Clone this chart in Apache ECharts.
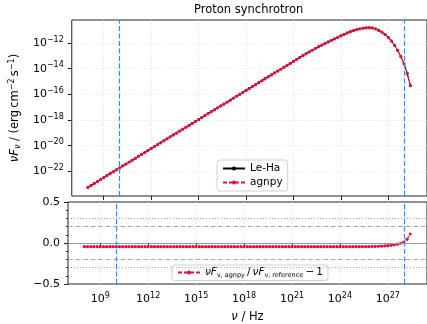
<!DOCTYPE html>
<html><head><meta charset="utf-8">
<script src="https://cdn.jsdelivr.net/npm/echarts@6/dist/echarts.min.js"></script>
<style>html,body{margin:0;padding:0;background:#fff}#c{width:427px;height:324px}</style>
</head><body><div id="c"></div>
<script>
// log10(nu / Hz)
const logNu = [8.0,8.2,8.4,8.6,8.8,9.0,9.2,9.4,9.6,9.8,10.0,10.2,10.4,10.6,10.8,11.0,11.2,11.4,11.6,11.8,12.0,12.2,12.4,12.6,12.8,13.0,13.2,13.4,13.6,13.8,14.0,14.2,14.4,14.6,14.8,15.0,15.2,15.4,15.6,15.8,16.0,16.2,16.4,16.6,16.8,17.0,17.2,17.4,17.6,17.8,18.0,18.2,18.4,18.6,18.8,19.0,19.2,19.4,19.6,19.8,20.0,20.2,20.4,20.6,20.8,21.0,21.2,21.4,21.6,21.8,22.0,22.2,22.4,22.6,22.8,23.0,23.2,23.4,23.6,23.8,24.0,24.2,24.4,24.6,24.8,25.0,25.2,25.4,25.6,25.8,26.0,26.2,26.4,26.6,26.8,27.0,27.2,27.4,27.6,27.8,28.0,28.2,28.4];
// log10(nuF_nu / erg cm^-2 s^-1), agnpy
const agnpyLogFlux = [-23.25,-23.10,-22.95,-22.80,-22.65,-22.50,-22.34,-22.19,-22.04,-21.89,-21.74,-21.59,-21.44,-21.29,-21.14,-20.99,-20.83,-20.68,-20.53,-20.38,-20.23,-20.08,-19.93,-19.78,-19.63,-19.47,-19.32,-19.17,-19.02,-18.87,-18.72,-18.57,-18.42,-18.27,-18.12,-17.97,-17.81,-17.66,-17.51,-17.36,-17.21,-17.06,-16.91,-16.76,-16.61,-16.46,-16.30,-16.15,-16.00,-15.85,-15.70,-15.55,-15.40,-15.25,-15.10,-14.95,-14.79,-14.64,-14.49,-14.34,-14.19,-14.04,-13.89,-13.74,-13.59,-13.43,-13.28,-13.13,-12.98,-12.84,-12.70,-12.56,-12.42,-12.29,-12.16,-12.04,-11.92,-11.80,-11.68,-11.56,-11.44,-11.33,-11.22,-11.12,-11.03,-10.96,-10.90,-10.85,-10.82,-10.81,-10.83,-10.90,-11.01,-11.15,-11.33,-11.56,-11.84,-12.18,-12.58,-13.06,-13.63,-14.35,-15.30];
// nuF_nu,agnpy / nuF_nu,reference - 1
const ratio = [-0.045,-0.045,-0.045,-0.045,-0.045,-0.045,-0.045,-0.045,-0.045,-0.045,-0.045,-0.045,-0.045,-0.045,-0.045,-0.045,-0.045,-0.045,-0.045,-0.045,-0.045,-0.045,-0.045,-0.045,-0.045,-0.045,-0.045,-0.045,-0.045,-0.045,-0.045,-0.045,-0.045,-0.045,-0.045,-0.045,-0.045,-0.045,-0.045,-0.045,-0.045,-0.045,-0.045,-0.045,-0.045,-0.045,-0.045,-0.045,-0.045,-0.045,-0.045,-0.045,-0.045,-0.045,-0.045,-0.045,-0.045,-0.045,-0.045,-0.045,-0.045,-0.045,-0.045,-0.045,-0.045,-0.045,-0.045,-0.045,-0.045,-0.045,-0.045,-0.045,-0.045,-0.045,-0.045,-0.045,-0.045,-0.045,-0.045,-0.045,-0.045,-0.045,-0.045,-0.045,-0.045,-0.045,-0.045,-0.044,-0.044,-0.043,-0.043,-0.042,-0.041,-0.039,-0.036,-0.033,-0.028,-0.022,-0.014,-0.003,0.012,0.045,0.110];
const xTickExp = [9,12,15,18,21,24,27];
const yTickExp = [-22,-20,-18,-16,-14,-12];
const ratioGuides = {solid:[0], dashed:[-0.2,0.2], dotted:[-0.3,0.3]};
const nuLimits = [10,28];
const titleText = 'Proton synchrotron';

const FF = 'DejaVu Sans';
const agnpyPts = logNu.map((v,i)=>[v, agnpyLogFlux[i]]);
const lehaPts = logNu.map((v,i)=>[v, agnpyLogFlux[i] - Math.log10(1 + ratio[i])]);
const ratioPts = logNu.map((v,i)=>[v, ratio[i]]);
const minus = s => String(s).replace('-', '\u2212');
const powRich = {
  b:{fontSize:11, fontFamily:FF, color:'#000'},
  s:{fontSize:8, fontFamily:FF, color:'#000', padding:[0,0,7,0]}
};
const powFmt = v => '{b|10}{s|' + minus(Math.round(v)) + '}';
const gridLine = {show:true, lineStyle:{color:'#d8d8d8', width:0.8, type:[1,2]}};
const spine = '#222';

const chart = echarts.init(document.getElementById('c'), null, {renderer:'canvas'});
chart.setOption({
  animation:false,
  backgroundColor:'#fff',
  title:{text:titleText, left:194, top:4, padding:0, textStyle:{fontFamily:FF, fontSize:11.5, fontWeight:'normal', color:'#000'}},
  grid:[
    {left:68, top:20, width:362, height:176, show:true, borderColor:spine, borderWidth:1, backgroundColor:'transparent'},
    {left:68, top:202, width:362, height:87, show:true, borderColor:spine, borderWidth:1, backgroundColor:'transparent'}
  ],
  xAxis:[
    {type:'value', gridIndex:0, min:6.98, max:29.45,
     axisLine:{show:false},
     axisTick:{show:true, length:4, customValues:xTickExp, lineStyle:{color:spine}},
     axisLabel:{show:false, customValues:xTickExp},
     splitLine:gridLine},
    {type:'value', gridIndex:1, min:6.98, max:29.45,
     name:'{i|ν}{n| / Hz}', nameLocation:'middle', nameGap:27,
     nameTextStyle:{rich:{i:{fontSize:11.5, fontFamily:FF, fontStyle:'italic', color:'#000'}, n:{fontSize:11.5, fontFamily:FF, color:'#000'}}},
     axisLine:{show:false},
     axisTick:{show:true, length:4, customValues:xTickExp, lineStyle:{color:spine}},
     axisLabel:{show:true, customValues:xTickExp, formatter:powFmt, rich:powRich, margin:8},
     splitLine:gridLine}
  ],
  yAxis:[
    {type:'value', gridIndex:0, min:-23.92, max:-10.2,
     name:'{i|νF}{sb|ν}{n| / (erg\u2009cm}{sp|\u22122}{n|\u2009s}{sp|\u22121}{n|)}',
     nameLocation:'middle', nameGap:44,
     nameTextStyle:{rich:{
       i:{fontSize:11.5, fontFamily:FF, fontStyle:'italic', color:'#000'},
       n:{fontSize:11.5, fontFamily:FF, color:'#000'},
       sb:{fontSize:8, fontFamily:FF, fontStyle:'italic', color:'#000', padding:[5,0,0,0]},
       sp:{fontSize:8, fontFamily:FF, color:'#000', padding:[0,0,7,0]}}},
     axisLine:{show:false},
     axisTick:{show:true, length:4, customValues:yTickExp, lineStyle:{color:spine}},
     axisLabel:{show:true, customValues:yTickExp, formatter:powFmt, rich:powRich, margin:8},
     splitLine:gridLine},
    {type:'value', gridIndex:1, min:-0.5, max:0.5, interval:0.5,
     axisLine:{show:false},
     axisTick:{show:true, length:4, lineStyle:{color:spine}},
     minorTick:{show:true, splitNumber:5, length:2, lineStyle:{color:spine}},
     axisLabel:{show:true, fontFamily:FF, fontSize:11, color:'#000', margin:8,
       formatter:v => minus(v.toFixed(1))},
     splitLine:{show:false}}
  ],
  legend:[
    {data:['Le-Ha','agnpy'], orient:'vertical', left:217, top:160,
     itemWidth:22, itemHeight:5, itemGap:3, padding:[3,5,3,5],
     backgroundColor:'rgba(255,255,255,0.85)', borderColor:'#d0d0d0', borderWidth:1, borderRadius:3,
     textStyle:{fontFamily:FF, fontSize:10.5, color:'#000'}},
    {data:['ratio'], orient:'horizontal', left:172, top:265,
     itemWidth:22, itemHeight:5, padding:[2,5,2,5],
     backgroundColor:'rgba(255,255,255,0.85)', borderColor:'#d0d0d0', borderWidth:1, borderRadius:3,
     formatter:() => '{i|νF}{sb|ν, agnpy}{n|\u2009/\u2009}{i|νF}{sb|ν, reference}{n|\u2009\u2212\u20091}',
     textStyle:{fontFamily:FF, fontSize:10.5, color:'#000', rich:{
       i:{fontSize:10.5, fontFamily:FF, fontStyle:'italic', color:'#000'},
       n:{fontSize:10.5, fontFamily:FF, color:'#000'},
       sb:{fontSize:6.5, fontFamily:FF, color:'#000', padding:[5,0,0,0]}}}}
  ],
  series:[
    {name:'guides', type:'line', xAxisIndex:1, yAxisIndex:1, data:[], z:1, silent:true,
     markLine:{silent:true, symbol:'none', label:{show:false}, animation:false,
       data:[
         ...ratioGuides.solid.map(v=>({yAxis:v, lineStyle:{color:'#9a9a9a', width:1.2, type:'solid'}})),
         ...ratioGuides.dashed.map(v=>({yAxis:v, lineStyle:{color:'#aaaaaa', width:1.2, type:[5,2.5]}})),
         ...ratioGuides.dotted.map(v=>({yAxis:v, lineStyle:{color:'#aaaaaa', width:1, type:[1,2]}}))
       ]}},
    {name:'Le-Ha', type:'line', xAxisIndex:0, yAxisIndex:0, data:lehaPts, z:2,
     color:'#000', lineStyle:{color:'#000', width:1}, symbol:'circle', symbolSize:2.5,
     itemStyle:{color:'#000'}},
    {name:'agnpy', type:'line', xAxisIndex:0, yAxisIndex:0, data:agnpyPts, z:3,
     color:'#DC143C', lineStyle:{color:'#DC143C', width:1.2, type:[4,2]}, symbol:'circle', symbolSize:3.2,
     itemStyle:{color:'#DC143C'}},
    {name:'ratio', type:'line', xAxisIndex:1, yAxisIndex:1, data:ratioPts, z:3,
     color:'#DC143C', lineStyle:{color:'#DC143C', width:1.2, type:[4,2]}, symbol:'circle', symbolSize:3.2,
     itemStyle:{color:'#DC143C'}},
    {name:'vtop', type:'line', xAxisIndex:0, yAxisIndex:0, data:[], z:5, silent:true,
     markLine:{silent:true, symbol:'none', label:{show:false}, animation:false,
       lineStyle:{color:'#1E90FF', width:1.2, type:[5,2.5]},
       data:nuLimits.map(v=>({xAxis:v}))}},
    {name:'vbot', type:'line', xAxisIndex:1, yAxisIndex:1, data:[], z:5, silent:true,
     markLine:{silent:true, symbol:'none', label:{show:false}, animation:false,
       lineStyle:{color:'#1E90FF', width:1.2, type:[5,2.5]},
       data:nuLimits.map(v=>({xAxis:v}))}}
  ]
});
</script>
</body></html>
